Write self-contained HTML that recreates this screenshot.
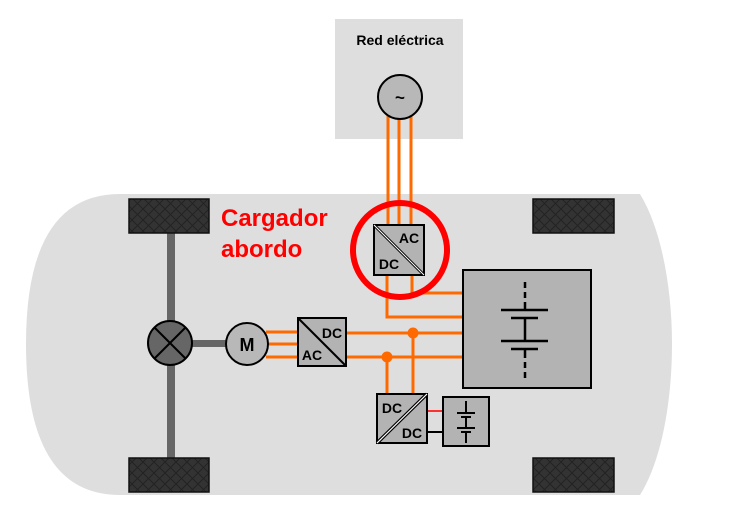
<!DOCTYPE html>
<html><head><meta charset="utf-8"><style>
html,body{margin:0;padding:0;background:#fff;}
svg{display:block;}
text{font-family:"Liberation Sans",Arial,sans-serif;font-weight:bold;}
</style></head><body>
<svg width="730" height="518" viewBox="0 0 730 518" xmlns="http://www.w3.org/2000/svg">
<defs>
<pattern id="hx" width="11" height="11" patternUnits="userSpaceOnUse">
<rect width="11" height="11" fill="#333"/>
<path d="M0 0L11 11M11 0L0 11" stroke="#222" stroke-width="1"/>
</pattern>
</defs>
<rect x="335" y="19" width="128" height="120" fill="#dedede"/>
<text x="400" y="45" font-size="14" text-anchor="middle" fill="#000">Red eléctrica</text>
<path d="M120 194 L640 194 C662 230 672 290 672 344 C672 400 662 460 640 495 L120 495 Q26 495 26 344 Q26 194 120 194 Z" fill="#dedede"/>
<g stroke="#ff6a00" stroke-width="3" fill="none">
<line x1="388" y1="115" x2="388" y2="226"/>
<line x1="399" y1="115" x2="399" y2="226"/>
<line x1="411" y1="115" x2="411" y2="226"/>
<polyline points="412,274 412,293 463,293"/>
<polyline points="387,274 387,317 463,317"/>
<line x1="346" y1="333" x2="463" y2="333"/>
<line x1="346" y1="357" x2="463" y2="357"/>
<line x1="413" y1="333" x2="413" y2="394"/>
<line x1="387" y1="357" x2="387" y2="394"/>
<line x1="266" y1="332" x2="298" y2="332"/>
<line x1="266" y1="344" x2="298" y2="344"/>
<line x1="266" y1="357" x2="298" y2="357"/>
</g>
<circle cx="413" cy="333" r="5.5" fill="#ff6a00"/>
<circle cx="387" cy="357" r="5.5" fill="#ff6a00"/>
<line x1="427" y1="411" x2="443" y2="411" stroke="#ff3030" stroke-width="2"/>
<line x1="427" y1="432" x2="443" y2="432" stroke="#000" stroke-width="2"/>
<circle cx="400" cy="97" r="22" fill="#b8b8b8" stroke="#000" stroke-width="2"/>
<text x="400" y="103" font-size="17" text-anchor="middle">~</text>
<rect x="167" y="232" width="8" height="228" fill="#666"/>
<rect x="190" y="340" width="38" height="7" fill="#666"/>
<rect x="129" y="199" width="80" height="34" fill="url(#hx)" stroke="#111" stroke-width="1.5"/>
<rect x="129" y="458" width="80" height="34" fill="url(#hx)" stroke="#111" stroke-width="1.5"/>
<rect x="533" y="199" width="81" height="34" fill="url(#hx)" stroke="#111" stroke-width="1.5"/>
<rect x="533" y="458" width="81" height="34" fill="url(#hx)" stroke="#111" stroke-width="1.5"/>
<circle cx="170" cy="343" r="22" fill="#666" stroke="#000" stroke-width="2"/>
<path d="M154.5 327.5L185.5 358.5M185.5 327.5L154.5 358.5" stroke="#000" stroke-width="2"/>
<circle cx="247" cy="344" r="21" fill="#b8b8b8" stroke="#000" stroke-width="2"/>
<text x="247" y="351" font-size="18" text-anchor="middle">M</text>
<rect x="298" y="318" width="48" height="48" fill="#b3b3b3" stroke="#000" stroke-width="2"/>
<line x1="298" y1="318" x2="346" y2="366" stroke="#000" stroke-width="2"/>
<text x="332" y="338" font-size="14" text-anchor="middle">DC</text>
<text x="312" y="360" font-size="14" text-anchor="middle">AC</text>
<rect x="374" y="225" width="50" height="50" fill="#b3b3b3" stroke="#000" stroke-width="2"/>
<line x1="374" y1="225" x2="424" y2="275" stroke="#000" stroke-width="3"/>
<line x1="374" y1="225" x2="424" y2="275" stroke="#fff" stroke-width="1"/>
<text x="409" y="243" font-size="14" text-anchor="middle">AC</text>
<text x="389" y="269" font-size="14" text-anchor="middle">DC</text>
<circle cx="400" cy="250" r="47" fill="none" stroke="#ff0000" stroke-width="6"/>
<rect x="463" y="270" width="128" height="118" fill="#b3b3b3" stroke="#000" stroke-width="2"/>
<g stroke="#000" stroke-width="2.5">
<line x1="525" y1="282" x2="525" y2="288"/>
<line x1="525" y1="292" x2="525" y2="298"/>
<line x1="525" y1="302" x2="525" y2="310"/>
<line x1="501" y1="310" x2="548" y2="310"/>
<line x1="511" y1="318" x2="538" y2="318"/>
<line x1="525" y1="318" x2="525" y2="341"/>
<line x1="501" y1="341" x2="548" y2="341"/>
<line x1="511" y1="349" x2="538" y2="349"/>
<line x1="525" y1="349" x2="525" y2="358"/>
<line x1="525" y1="362" x2="525" y2="368"/>
<line x1="525" y1="372" x2="525" y2="378"/>
</g>
<rect x="377" y="394" width="50" height="49" fill="#b3b3b3" stroke="#000" stroke-width="2"/>
<line x1="377" y1="443" x2="427" y2="394" stroke="#000" stroke-width="3.5"/>
<line x1="377" y1="443" x2="427" y2="394" stroke="#fff" stroke-width="1.2"/>
<text x="392" y="413" font-size="14" text-anchor="middle">DC</text>
<text x="412" y="438" font-size="14" text-anchor="middle">DC</text>
<rect x="443" y="397" width="46" height="49" fill="#b3b3b3" stroke="#000" stroke-width="2"/>
<g stroke="#000" stroke-width="2">
<line x1="466" y1="401" x2="466" y2="413"/>
<line x1="457" y1="413" x2="475" y2="413"/>
<line x1="461" y1="417" x2="471" y2="417"/>
<line x1="466" y1="417" x2="466" y2="428"/>
<line x1="457" y1="428" x2="475" y2="428"/>
<line x1="461" y1="432" x2="471" y2="432"/>
<line x1="466" y1="432" x2="466" y2="443"/>
</g>
<text x="221" y="226" font-size="24" fill="#ff0000">Cargador</text>
<text x="221" y="257" font-size="24" fill="#ff0000">abordo</text>
</svg>
</body></html>
